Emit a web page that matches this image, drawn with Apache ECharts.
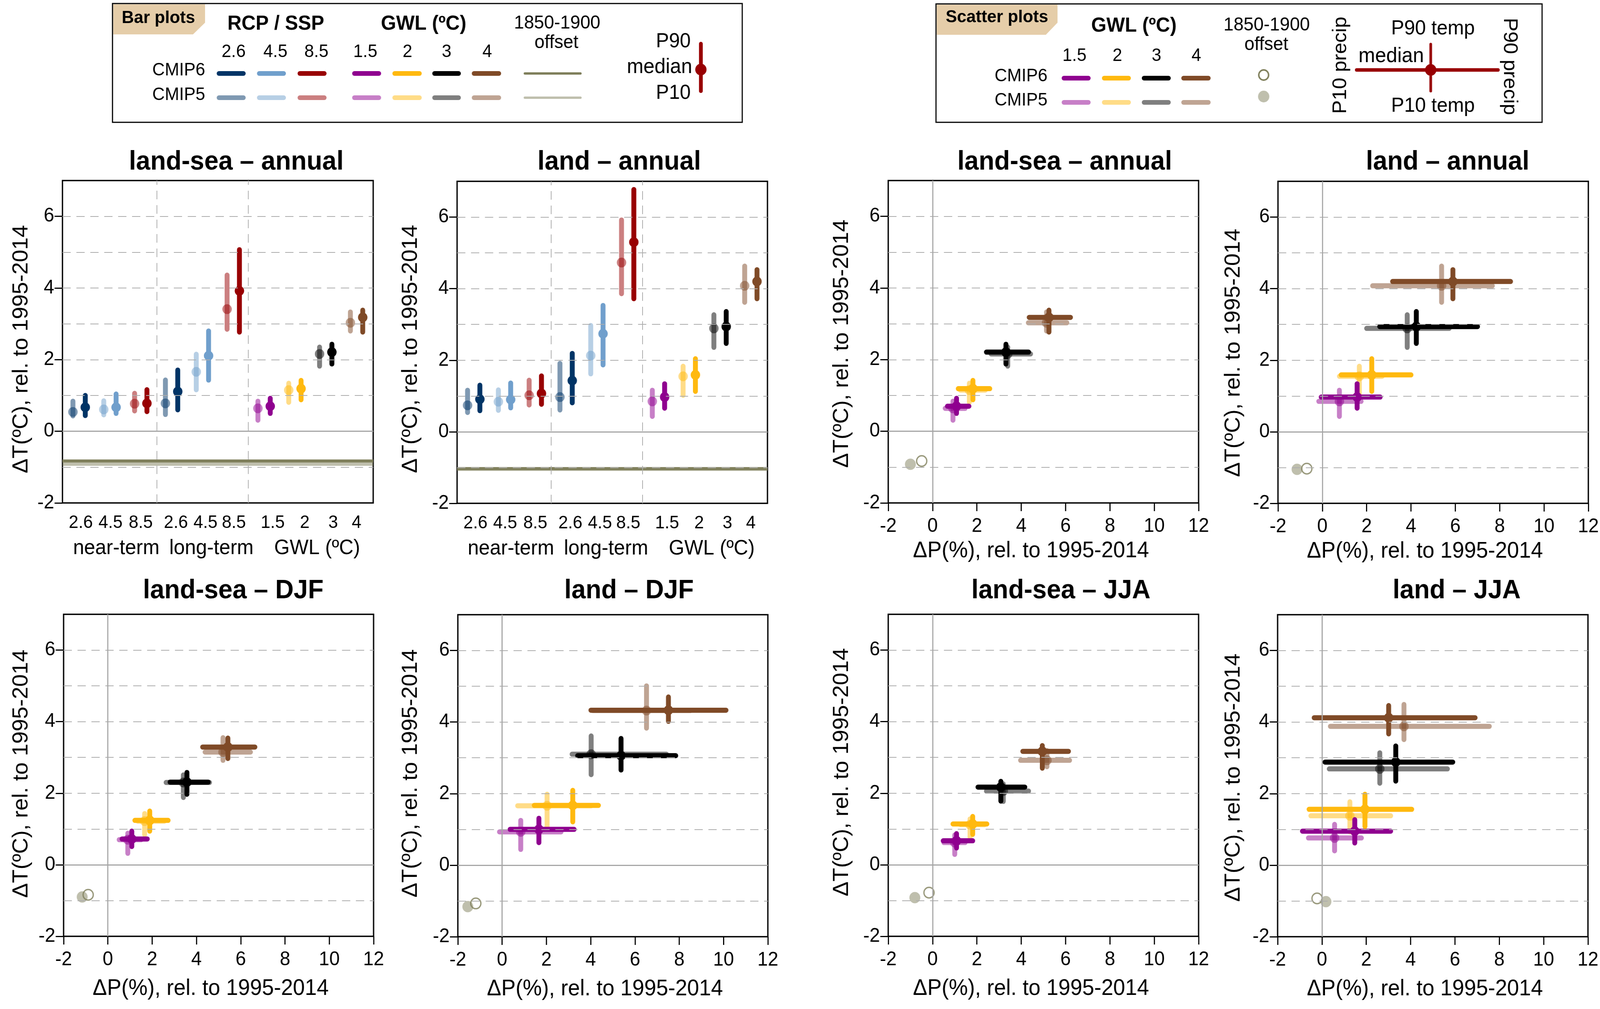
<!DOCTYPE html>
<html>
<head>
<meta charset="utf-8">
<title>land-sea precipitation and temperature</title>
<script src="https://cdn.jsdelivr.net/npm/echarts@6/dist/echarts.min.js"></script>
<style>
  html, body { margin: 0; padding: 0; background: #fff; overflow: hidden; }
  #chart { width: 4253px; height: 2582px; transform-origin: 0 0; }
</style>
</head>
<body>
<div id="chart"></div>
<script>
// tick labels
const yTicks = [-2, 0, 2, 4, 6];
const yGuides = [-1, 1, 2, 3, 4, 5, 6];
const xTicks = [-2, 0, 2, 4, 6, 8, 10, 12];
const barTickLabels = ['2.6', '4.5', '8.5', '2.6', '4.5', '8.5', '1.5', '2', '3', '4'];
const barGroupLabels = ['near-term', 'long-term', 'GWL (ºC)'];

// bar panels: [P10, median, P90] of dT, near-term 2.6/4.5/8.5, long-term 2.6/4.5/8.5, GWL 1.5/2/3/4
const lsBarC5 = [[.43,.54,.84],[.46,.61,.85],[.57,.77,1.06],[.47,.78,1.43],[1.16,1.66,2.15],[2.85,3.41,4.36],[.31,.64,.84],[.81,1.15,1.34],[1.82,2.16,2.35],[2.80,3.03,3.33]];
const lsBarC6 = [[.44,.67,1.0],[.50,.67,1.04],[.55,.78,1.16],[.60,1.11,1.71],[1.43,2.11,2.80],[2.77,3.92,5.07],[.50,.70,.92],[.88,1.19,1.42],[1.88,2.21,2.43],[2.77,3.18,3.38]];
const landBarC5 = [[.54,.74,1.16],[.60,.84,1.17],[.75,1.02,1.44],[.61,.97,1.91],[1.62,2.13,2.97],[3.86,4.73,5.92],[.43,.85,1.16],[1.02,1.55,1.83],[2.36,2.89,3.27],[3.62,4.08,4.63]];
const landBarC6 = [[.59,.91,1.30],[.67,.90,1.36],[.77,1.07,1.56],[.81,1.43,2.19],[1.87,2.74,3.53],[3.72,5.30,6.77],[.66,.97,1.34],[1.13,1.59,2.04],[2.47,2.94,3.36],[3.72,4.20,4.53]];
// offset to 1850-1900 in the bar panels, [CMIP5, CMIP6]
const lsBarOffset = [-.92, -.83];
const landBarOffset = [-1.05, -1.03];

// scatter panels: [P10, median, P90] for GWL 1.5/2/3/4, P = precip (%), T = temp
const lsAnnP5 = [[.57,.92,1.47],[1.25,1.66,2.38],[2.64,3.39,4.42],[4.32,5.14,6.06]];
const lsAnnP6 = [[.67,1.08,1.64],[1.16,1.82,2.58],[2.43,3.31,4.33],[4.36,5.25,6.22]];
const lsAnnT5 = lsBarC5.slice(6);
const lsAnnT6 = lsBarC6.slice(6);
const lsAnnOff = [[-1.0,-.92],[-.49,-.83]];

const landAnnP5 = [[-.16,.77,1.75],[.77,1.67,2.70],[2.0,3.83,5.72],[2.27,5.38,7.67]];
const landAnnP6 = [[-.05,1.57,2.61],[.85,2.23,4.0],[2.59,4.24,7.0],[3.17,5.89,8.49]];
const landAnnT5 = landBarC5.slice(6);
const landAnnT6 = landBarC6.slice(6);
const landAnnOff = [[-1.14,-1.05],[-.70,-1.03]];

const lsDjfP5 = [[.51,.90,1.5],[1.35,1.66,2.55],[2.63,3.41,4.59],[4.39,5.2,6.44]];
const lsDjfP6 = [[.64,1.08,1.78],[1.22,1.89,2.72],[2.81,3.57,4.53],[4.28,5.42,6.64]];
const lsDjfT5 = [[.32,.70,.88],[.84,1.22,1.43],[1.88,2.30,2.51],[2.92,3.15,3.55]];
const lsDjfT6 = [[.51,.72,.94],[.94,1.24,1.50],[1.97,2.31,2.58],[2.97,3.29,3.54]];
const lsDjfOff = [[-1.16,-.90],[-.89,-.84]];

const landDjfP5 = [[-.12,.84,2.66],[.70,2.03,4.02],[3.16,4.02,7.42],[4.1,6.52,8.5]];
const landDjfP6 = [[.36,1.66,3.25],[1.45,3.19,4.35],[3.41,5.37,7.84],[4.01,7.51,10.11]];
const landDjfT5 = [[.44,.93,1.25],[1.06,1.66,1.98],[2.53,3.10,3.61],[3.83,4.32,5.01]];
const landDjfT6 = [[.63,1.0,1.31],[1.21,1.67,2.09],[2.66,3.06,3.54],[4.02,4.33,4.70]];
const landDjfOff = [[-1.55,-1.16],[-1.19,-1.07]];

const lsJjaP5 = [[.51,1.0,1.47],[1.27,1.69,2.34],[2.43,3.19,4.33],[3.97,5.16,6.18]];
const lsJjaP6 = [[.48,1.08,1.81],[.92,1.81,2.45],[2.05,3.08,4.16],[4.07,4.95,6.13]];
const lsJjaT5 = [[.29,.62,.83],[.77,1.12,1.28],[1.77,2.06,2.26],[2.74,2.92,3.19]];
const lsJjaT6 = [[.47,.67,.87],[.85,1.14,1.35],[1.78,2.17,2.33],[2.70,3.17,3.33]];
const lsJjaOff = [[-.8,-.92],[-.16,-.78]];

const landJjaP5 = [[-.61,.57,1.78],[-.5,1.26,3.10],[.33,2.61,5.66],[.38,3.70,7.55]];
const landJjaP6 = [[-.88,1.48,3.10],[-.58,1.94,4.05],[.14,3.33,5.90],[-.35,3.01,6.91]];
const landJjaT5 = [[.40,.76,1.14],[.93,1.38,1.77],[2.29,2.69,3.14],[3.51,3.88,4.49]];
const landJjaT6 = [[.62,.95,1.27],[1.08,1.56,1.98],[2.35,2.88,3.33],[3.67,4.12,4.46]];
const landJjaOff = [[.18,-1.02],[-.22,-.93]];

// colours
const scenarioColors = ['#003466', '#709fcc', '#980002'];
const gwlColors = ['#8f008f', '#ffb90f', '#000000', '#7f4a27'];
const offsetColor = '#7f7f5b';
const C5_ALPHA = 0.5;
const FONT = '"Liberation Sans", Arial, sans-serif';
const WHISKER = 13, DOT = 25;

// layout of the panels in the page, px
const panelBoxes = [
  { kind: 'bar', title: 'land-sea – annual', l: 166, r: 992, t: 462, b: 1287, titleX: 623, titleY: 410, yGap: 80, yShift: 19, c5: lsBarC5, c6: lsBarC6, off: lsBarOffset },
  { kind: 'bar', title: 'land – annual', l: 1215, r: 2040, t: 464, b: 1288, titleX: 1641, titleY: 410, yGap: 94, yShift: 17, c5: landBarC5, c6: landBarC6, off: landBarOffset },
  { kind: 'scatter', title: 'land-sea – annual', l: 2361, r: 3186, t: 462, b: 1287, titleX: 2825, titleY: 410, yGap: 94, yShift: 5, xShift: 33, xGap: 95, p5: lsAnnP5, p6: lsAnnP6, t5: lsAnnT5, t6: lsAnnT6, off: lsAnnOff },
  { kind: 'scatter', title: 'land – annual', l: 3397, r: 4222, t: 464, b: 1288, titleX: 3843, titleY: 410, yGap: 89, yShift: 27, xShift: 22, xGap: 95, p5: landAnnP5, p6: landAnnP6, t5: landAnnT5, t6: landAnnT6, off: landAnnOff },
  { kind: 'scatter', title: 'land-sea – DJF', l: 169, r: 993, t: 1572, b: 2396, titleX: 615, titleY: 1507, yGap: 83, yShift: -4, xShift: 21, xGap: 106, p5: lsDjfP5, p6: lsDjfP6, t5: lsDjfT5, t6: lsDjfT6, off: lsDjfOff },
  { kind: 'scatter', title: 'land – DJF', l: 1217, r: 2041, t: 1573, b: 2397, titleX: 1667, titleY: 1507, yGap: 96, yShift: -6, xShift: 21, xGap: 106, p5: landDjfP5, p6: landDjfP6, t5: landDjfT5, t6: landDjfT6, off: landDjfOff },
  { kind: 'scatter', title: 'land-sea – JJA', l: 2361, r: 3186, t: 1572, b: 2396, titleX: 2815, titleY: 1507, yGap: 94, yShift: -8, xShift: 33, xGap: 106, p5: lsJjaP5, p6: lsJjaP6, t5: lsJjaT5, t6: lsJjaT6, off: lsJjaOff },
  { kind: 'scatter', title: 'land – JJA', l: 3396, r: 4221, t: 1573, b: 2397, titleX: 3867, titleY: 1507, yGap: 88, yShift: 5, xShift: 21, xGap: 106, p5: landJjaP5, p6: landJjaP6, t5: landJjaT5, t6: landJjaT6, off: landJjaOff }
];

// the bar panels x axis is just slots, labels do not sit under the bars
const BAR_X_MIN = 0.3, BAR_X_MAX = 50.7;
const barTickSlots = [3.28, 8.1, 13, 18.7, 23.5, 28.1, 34.4, 39.6, 44.2, 48];
const barGroupDx = [143, 396, 677];
const barSeparators = [15.58, 30.4];

function barColor(i) { return i < 6 ? scenarioColors[i % 3] : gwlColors[i - 6]; }

function renderBar(params, api) {
  const x = api.value(0);
  const lo = api.coord([x, api.value(1)]);
  const med = api.coord([x, api.value(2)]);
  const hi = api.coord([x, api.value(3)]);
  const color = barColor(api.value(5));
  const op = api.value(4) ? 1 : C5_ALPHA;
  return { type: 'group', children: [
    { type: 'line', shape: { x1: lo[0], y1: lo[1], x2: hi[0], y2: hi[1] }, style: { stroke: color, lineWidth: WHISKER, lineCap: 'round', fill: null, opacity: op } },
    { type: 'circle', shape: { cx: med[0], cy: med[1], r: DOT / 2 }, style: { fill: color, opacity: op } }
  ] };
}

function renderCross(params, api) {
  const pm = api.value(1), tm = api.value(4);
  const a = api.coord([api.value(0), tm]), b = api.coord([api.value(2), tm]);
  const c = api.coord([pm, api.value(3)]), d = api.coord([pm, api.value(5)]);
  const m = api.coord([pm, tm]);
  const color = gwlColors[api.value(7)];
  const op = api.value(6) ? 1 : C5_ALPHA;
  const style = { stroke: color, lineWidth: WHISKER, lineCap: 'round', fill: null, opacity: op };
  return { type: 'group', children: [
    { type: 'line', shape: { x1: a[0], y1: a[1], x2: b[0], y2: b[1] }, style: style },
    { type: 'line', shape: { x1: c[0], y1: c[1], x2: d[0], y2: d[1] }, style: style },
    { type: 'circle', shape: { cx: m[0], cy: m[1], r: DOT / 2 }, style: { fill: color, opacity: op } }
  ] };
}

function guideLine(axis, v, solid) {
  let d = {}; d[axis] = v;
  d.lineStyle = solid
    ? { color: '#a6a6a6', width: 3, type: 'solid' }
    : { color: '#adadad', width: 2, type: [22, 15] };
  return d;
}

function padName(shift) {
  // padding on one side moves the centred name by half of it
  return shift >= 0 ? [0, 2 * shift, 0, 0] : [0, 0, 0, -2 * shift];
}

let grid = [], xAxis = [], yAxis = [], series = [], title = [], extraText = [];

panelBoxes.forEach(function (p, n) {
  grid.push({ left: p.l, top: p.t, width: p.r - p.l, height: p.b - p.t, show: true, borderColor: '#000', borderWidth: 3.5, backgroundColor: 'transparent', containLabel: false });
  title.push({ text: p.title, left: p.titleX, top: p.titleY, textAlign: 'center', textVerticalAlign: 'middle', textStyle: { fontFamily: FONT, fontWeight: 'bold', fontSize: 68, color: '#000' } });

  yAxis.push({
    gridIndex: n, type: 'value', min: -2, max: 7, interval: 1,
    name: 'ΔT(ºC), rel. to 1995-2014', nameLocation: 'middle', nameRotate: 90, nameGap: p.yGap,
    nameTextStyle: { fontFamily: FONT, fontSize: 57, color: '#000', padding: padName(p.yShift) },
    axisLine: { show: false, onZero: false }, splitLine: { show: false },
    axisTick: { show: true, length: 21, lineStyle: { color: '#000', width: 3 }, customValues: yTicks },
    axisLabel: { show: true, margin: 22, fontFamily: FONT, fontSize: 50, color: '#000', customValues: yTicks, formatter: function (v) { return String(v); } }
  });

  let guides = yGuides.map(function (v) { return guideLine('yAxis', v); });
  guides.push(guideLine('yAxis', 0, true));

  if (p.kind === 'bar') {
    xAxis.push({
      gridIndex: n, type: 'value', min: BAR_X_MIN, max: BAR_X_MAX,
      axisLine: { show: false, onZero: false }, splitLine: { show: false },
      axisTick: { show: false },
      axisLabel: { show: true, margin: 28, fontFamily: FONT, fontSize: 46, color: '#000', customValues: barTickSlots,
        formatter: function (v) { return barTickLabels[barTickSlots.indexOf(v)]; } }
    });
    barSeparators.forEach(function (v) { guides.push(guideLine('xAxis', v)); });
    barGroupLabels.forEach(function (s, i) {
      extraText.push({ type: 'text', style: { text: s, x: p.l + barGroupDx[i], y: p.b + 116, textAlign: 'center', textVerticalAlign: 'middle', fontFamily: FONT, fontSize: 53, fill: '#000' } });
    });
  } else {
    xAxis.push({
      gridIndex: n, type: 'value', min: -2, max: 12, interval: 2,
      name: 'ΔP(%), rel. to 1995-2014', nameLocation: 'middle', nameGap: p.xGap,
      nameTextStyle: { fontFamily: FONT, fontSize: 57, color: '#000', padding: padName(p.xShift) },
      axisLine: { show: false, onZero: false }, splitLine: { show: false },
      axisTick: { show: true, length: 21, lineStyle: { color: '#000', width: 3 }, customValues: xTicks },
      axisLabel: { show: true, margin: 35, fontFamily: FONT, fontSize: 50, color: '#000', customValues: xTicks, formatter: function (v) { return String(v); } }
    });
    guides.push(guideLine('xAxis', 0, true));
  }

  // guide lines go under everything else
  series.push({ type: 'line', xAxisIndex: n, yAxisIndex: n, data: [], silent: true, z: 1,
    markLine: { silent: true, symbol: 'none', label: { show: false }, animation: false, data: guides } });

  if (p.kind === 'bar') {
    [0, 1].forEach(function (cm) {
      const y = p.off[cm];
      series.push({ type: 'line', xAxisIndex: n, yAxisIndex: n, z: 2, symbol: 'none', animation: false, silent: true,
        data: [[BAR_X_MIN, y], [BAR_X_MAX, y]],
        lineStyle: { color: offsetColor, width: 8, opacity: cm ? 1 : C5_ALPHA } });
    });
    let rows = [];
    p.c5.forEach(function (v, i) {
      rows.push([2 + 5 * i, v[0], v[1], v[2], 0, i]);
      rows.push([4 + 5 * i, p.c6[i][0], p.c6[i][1], p.c6[i][2], 1, i]);
    });
    series.push({ type: 'custom', xAxisIndex: n, yAxisIndex: n, z: 3, animation: false, silent: true, clip: false,
      renderItem: renderBar, encode: { x: 0, y: [1, 2, 3] }, data: rows });
  } else {
    // 1850-1900 offset, filled for CMIP5 and open for CMIP6
    series.push({ type: 'scatter', xAxisIndex: n, yAxisIndex: n, z: 2, symbol: 'circle', symbolSize: 29, animation: false, silent: true,
      itemStyle: { color: offsetColor, opacity: C5_ALPHA }, data: [p.off[0]] });
    series.push({ type: 'scatter', xAxisIndex: n, yAxisIndex: n, z: 2, symbol: 'circle', symbolSize: 27, animation: false, silent: true,
      itemStyle: { color: 'rgba(255,255,255,0)', borderColor: offsetColor, borderWidth: 3.5 }, data: [p.off[1]] });
    let rows = [];
    p.p5.forEach(function (v, i) { rows.push([v[0], v[1], v[2], p.t5[i][0], p.t5[i][1], p.t5[i][2], 0, i]); });
    p.p6.forEach(function (v, i) { rows.push([v[0], v[1], v[2], p.t6[i][0], p.t6[i][1], p.t6[i][2], 1, i]); });
    series.push({ type: 'custom', xAxisIndex: n, yAxisIndex: n, z: 3, animation: false, silent: true, clip: false,
      renderItem: renderCross, encode: { x: [0, 1, 2], y: [3, 4, 5] }, data: rows });
  }
});

// legend boxes are only decoration, typed in page px
function lab(x, y, s, size, bold, align) {
  return { type: 'text', style: { text: s, x: x, y: y, textAlign: align || 'center', textVerticalAlign: 'middle', fontFamily: FONT, fontSize: size, fontWeight: bold ? 'bold' : 'normal', fill: '#000' } };
}
function sw(x1, x2, y, color, op, w) {
  return { type: 'line', shape: { x1: x1, y1: y, x2: x2, y2: y }, style: { stroke: color, lineWidth: w || 12, lineCap: 'round', opacity: op } };
}
function box(x1, y1, x2, y2) {
  return { type: 'rect', shape: { x: x1, y: y1, width: x2 - x1, height: y2 - y1 }, style: { fill: '#fff', stroke: '#000', lineWidth: 3 } };
}
function tag(pts) {
  return { type: 'polygon', shape: { points: pts }, style: { fill: '#e5cda9' } };
}

const legendBar = [
  box(299, 9, 1973, 313),
  tag([[301, 11], [545, 11], [545, 58], [513, 88], [301, 88]]),
  lab(421, 47, 'Bar plots', 45, true),
  lab(733, 62, 'RCP / SSP', 52, true),
  lab(1126, 62, 'GWL (ºC)', 52, true),
  lab(1481, 60, '1850-1900', 48),
  lab(1479, 110, 'offset', 48),
  lab(475, 180, 'CMIP6', 46),
  lab(475, 243, 'CMIP5', 46),
  lab(1836, 107, 'P90', 52, false, 'right'),
  lab(1840, 172, 'median', 53, false, 'right'),
  lab(1836, 239, 'P10', 52, false, 'right'),
  { type: 'line', shape: { x1: 1863, y1: 112, x2: 1863, y2: 233 }, style: { stroke: '#980002', lineWidth: 10, lineCap: 'round' } },
  { type: 'circle', shape: { cx: 1863, cy: 178, r: 15 }, style: { fill: '#980002' } },
  sw(1395, 1543, 188, offsetColor, 1, 6),
  sw(1395, 1543, 250, offsetColor, C5_ALPHA, 6)
];
const legendBarNums = [['2.6', 621, 582, 647], ['4.5', 732, 689, 754], ['8.5', 841, 797, 862], ['1.5', 971, 942, 1007], ['2', 1083, 1049, 1115], ['3', 1187, 1155, 1219], ['4', 1295, 1260, 1326]];
legendBarNums.forEach(function (r, i) {
  legendBar.push(lab(r[1], 133, r[0], 46));
  const c = barColor(i < 3 ? i : i + 3);
  legendBar.push(sw(r[2], r[3], 188, c, 1));
  legendBar.push(sw(r[2], r[3], 250, c, C5_ALPHA));
});

const legendScatter = [
  box(2488, 10, 4099, 313),
  tag([[2490, 12], [2811, 12], [2811, 58], [2780, 89], [2490, 89]]),
  lab(2650, 45, 'Scatter plots', 45, true),
  lab(3014, 67, 'GWL (ºC)', 52, true),
  lab(3367, 65, '1850-1900', 48),
  lab(3366, 115, 'offset', 48),
  lab(2714, 195, 'CMIP6', 46),
  lab(2714, 257, 'CMIP5', 46),
  lab(3809, 74, 'P90 temp', 52),
  lab(3809, 272, 'P10 temp', 52),
  lab(3698, 144, 'median', 53),
  { type: 'text', x: 3564, y: 167, rotation: Math.PI / 2, style: { text: 'P10 precip', x: 0, y: 0, textAlign: 'center', textVerticalAlign: 'middle', fontFamily: FONT, fontSize: 52, fill: '#000' } },
  { type: 'text', x: 4012, y: 170, rotation: -Math.PI / 2, style: { text: 'P90 precip', x: 0, y: 0, textAlign: 'center', textVerticalAlign: 'middle', fontFamily: FONT, fontSize: 52, fill: '#000' } },
  sw(3606, 3982, 179, '#980002', 1, 9),
  { type: 'line', shape: { x1: 3803, y1: 113, x2: 3803, y2: 233 }, style: { stroke: '#980002', lineWidth: 7, lineCap: 'round' } },
  { type: 'circle', shape: { cx: 3803, cy: 179, r: 15 }, style: { fill: '#980002' } },
  { type: 'circle', shape: { cx: 3359, cy: 192, r: 13 }, style: { fill: '#fff', stroke: offsetColor, lineWidth: 4 } },
  { type: 'circle', shape: { cx: 3359, cy: 247, r: 15 }, style: { fill: offsetColor, opacity: C5_ALPHA } }
];
const legendScatterNums = [['1.5', 2856, 2828, 2893], ['2', 2970, 2935, 3000], ['3', 3074, 3041, 3106], ['4', 3180, 3146, 3212]];
legendScatterNums.forEach(function (r, i) {
  legendScatter.push(lab(r[1], 143, r[0], 46));
  legendScatter.push(sw(r[2], r[3], 200, gwlColors[i], 1));
  legendScatter.push(sw(r[2], r[3], 262, gwlColors[i], C5_ALPHA));
});

// the window can come out narrower than asked, squeeze so nothing is cut off
const chartEl = document.getElementById('chart');
if (window.innerWidth < 4253) {
  chartEl.style.transform = 'scaleX(' + (window.innerWidth / 4253) + ')';
}

const chart = echarts.init(chartEl, null, { renderer: 'canvas', width: 4253, height: 2582 });
chart.setOption({
  backgroundColor: '#fff',
  animation: false,
  title: title,
  grid: grid,
  xAxis: xAxis,
  yAxis: yAxis,
  series: series,
  graphic: { elements: legendBar.concat(legendScatter, extraText) }
});
</script>
</body>
</html>
